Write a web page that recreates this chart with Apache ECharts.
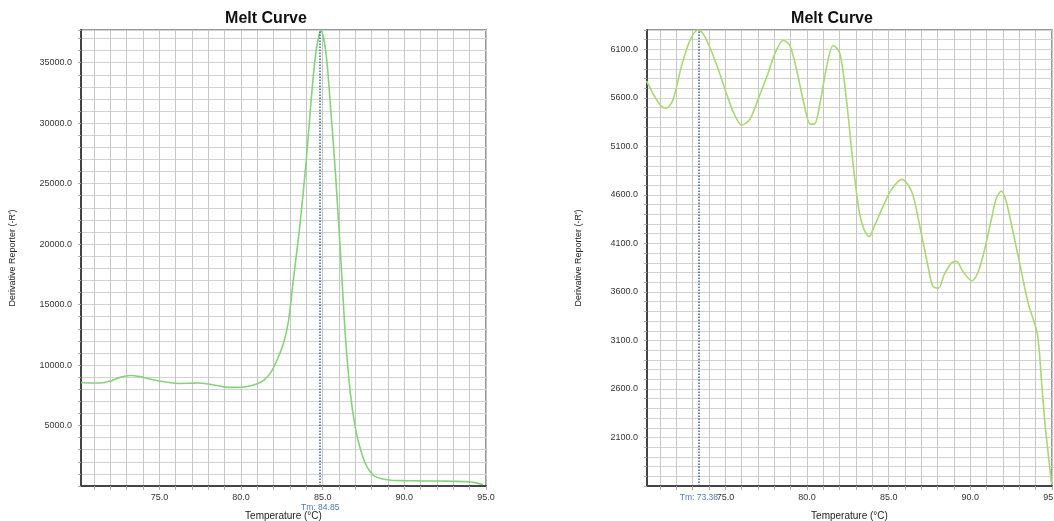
<!DOCTYPE html>
<html>
<head>
<meta charset="utf-8">
<script src="https://cdn.jsdelivr.net/npm/echarts@6/dist/echarts.min.js"></script>
<style>html,body{margin:0;padding:0;background:#fff}#c{width:1054px;height:521px}</style>
</head>
<body>
<div id="c"></div>
<script>
// ---- data ----
const leftTemps = [70.2,70.8,71.4,72.0,72.6,73.2,73.8,74.4,75.0,75.6,76.2,76.8,77.4,78.0,78.6,79.2,79.8,80.4,81.0,81.4,81.8,82.2,82.6,82.9,83.2,83.6,84.0,84.3,84.6,84.9,85.2,85.5,85.8,86.1,86.4,86.7,87.0,87.3,87.6,87.9,88.2,88.6,89.2,90.0,91.0,92.0,93.0,93.8,94.3,94.8];
const leftValues = [8560,8520,8520,8680,8980,9130,9040,8850,8680,8560,8480,8490,8520,8430,8290,8150,8150,8230,8450,8750,9350,10400,11800,13600,17000,21500,27000,32000,36000,37650,35800,31000,25500,19000,12200,7600,4800,3100,1900,1200,800,600,480,440,420,410,390,360,280,120];
const rightTemps = [70.17,70.65,71.1,71.4,71.8,72.3,72.8,73.3,73.6,74.05,74.55,75.1,75.5,76.0,76.5,77.0,77.55,78.05,78.55,78.95,79.4,79.8,80.2,80.45,80.8,81.2,81.6,82.0,82.4,82.8,83.2,83.5,83.8,84.1,84.65,85.15,85.8,86.2,86.5,86.95,87.4,87.7,88.05,88.4,88.85,89.15,89.55,90.1,90.45,90.85,91.3,91.6,91.9,92.2,92.6,93.1,93.55,94.1,94.35,94.55,94.77,94.97];
const rightValues = [5775,5620,5510,5495,5585,5920,6180,6300,6270,6120,5900,5630,5450,5320,5380,5585,5825,6065,6195,6140,5860,5550,5330,5330,5550,5920,6140,6065,5600,4950,4420,4240,4170,4270,4480,4650,4760,4700,4590,4240,3870,3660,3640,3780,3900,3915,3810,3715,3795,4020,4360,4570,4640,4530,4230,3830,3480,3170,2700,2280,1930,1620];
const tmLeft = 84.85;
const tmRight = 73.38;
const xTickValues = [71,72,73,74,75,76,77,78,79,80,81,82,83,84,85,86,87,88,89,90,91,92,93,94,95];
const xLabelValues = [75,80,85,90,95];
const titleText = 'Melt Curve';
const xName = 'Temperature (°C)';
const yName = "Derivative Reporter (-R')";

const pair = (xs, ys) => xs.map((x, i) => [x, ys[i]]);
const FONT = 'Liberation Sans';

function xAxisOpt(gi) {
  return {
    type: 'value', gridIndex: gi, min: 70.2, max: 95,
    name: xName, nameLocation: 'middle', nameGap: 25,
    nameTextStyle: { fontFamily: FONT, fontSize: 10, color: '#222' },
    axisLine: { show: true, lineStyle: { color: '#444', width: 2 } },
    axisTick: { show: true, length: 4, inside: false, customValues: xTickValues, lineStyle: { color: '#aaa' } },
    axisLabel: { customValues: xLabelValues, fontFamily: FONT, fontSize: 9, color: '#333', margin: 7,
      formatter: v => Number(v).toFixed(1) },
    splitLine: { show: true, lineStyle: { color: '#c6c6c6', width: 1 } },
    minorTick: { show: false }
  };
}
function yAxisOpt(gi, min, max, interval, labelStep, labelMin) {
  return {
    type: 'value', gridIndex: gi, min: min, max: max, interval: interval,
    name: yName, nameLocation: 'middle', nameGap: 64, nameRotate: 90,
    nameTextStyle: { fontFamily: FONT, fontSize: 9, color: '#222' },
    axisLine: { show: true, lineStyle: { color: '#444', width: 2 } },
    axisTick: { show: true, length: 3, lineStyle: { color: '#aaa' } },
    axisLabel: { fontFamily: FONT, fontSize: 9, color: '#333', margin: 9, showMaxLabel: true,
      formatter: v => { const r = Math.round(v); return (r >= labelMin && (r - labelMin) % labelStep === 0 && r < max) ? r.toFixed(1) : ''; } },
    splitLine: { show: true, lineStyle: { color: '#d2d2d2', width: 1 } }
  };
}
function tmLine(val, dist) {
  return {
    silent: true, symbol: 'none', animation: false,
    lineStyle: { color: '#3a5f9e', type: 'dotted', width: 1.5 },
    label: { show: true, position: 'start', distance: dist, formatter: 'Tm: ' + val.toFixed(2),
      fontFamily: FONT, fontSize: 8.5, color: '#4a78b8' },
    data: [{ xAxis: val }]
  };
}

const chart = echarts.init(document.getElementById('c'));
chart.setOption({
  animation: false,
  backgroundColor: '#fff',
  title: [
    { text: titleText, left: 261, top: 6, textAlign: 'center',
      textStyle: { fontFamily: FONT, fontWeight: 'bold', fontSize: 16, color: '#111' } },
    { text: titleText, left: 827, top: 6, textAlign: 'center',
      textStyle: { fontFamily: FONT, fontWeight: 'bold', fontSize: 16, color: '#111' } }
  ],
  grid: [
    { left: 81, top: 30, width: 405, height: 456, show: true, borderColor: '#777', borderWidth: 1.5,
      outerBoundsMode: 'none', containLabel: false },
    { left: 647, top: 30, width: 405, height: 456, show: true, borderColor: '#777', borderWidth: 1.5,
      outerBoundsMode: 'none', containLabel: false }
  ],
  xAxis: [xAxisOpt(0), xAxisOpt(1)],
  yAxis: [yAxisOpt(0, 0, 37700, 1000, 5000, 5000), yAxisOpt(1, 1600, 6300, 100, 500, 2100)],
  series: [
    { type: 'line', xAxisIndex: 0, yAxisIndex: 0, data: pair(leftTemps, leftValues), smooth: 0.3,
      showSymbol: false, lineStyle: { color: '#86d27a', width: 1.6 }, markLine: tmLine(tmLeft, 17) },
    { type: 'line', xAxisIndex: 1, yAxisIndex: 1, data: pair(rightTemps, rightValues), smooth: 0.3,
      showSymbol: false, lineStyle: { color: '#a9d872', width: 1.6 }, markLine: tmLine(tmRight, 7) }
  ]
});
</script>
</body>
</html>
